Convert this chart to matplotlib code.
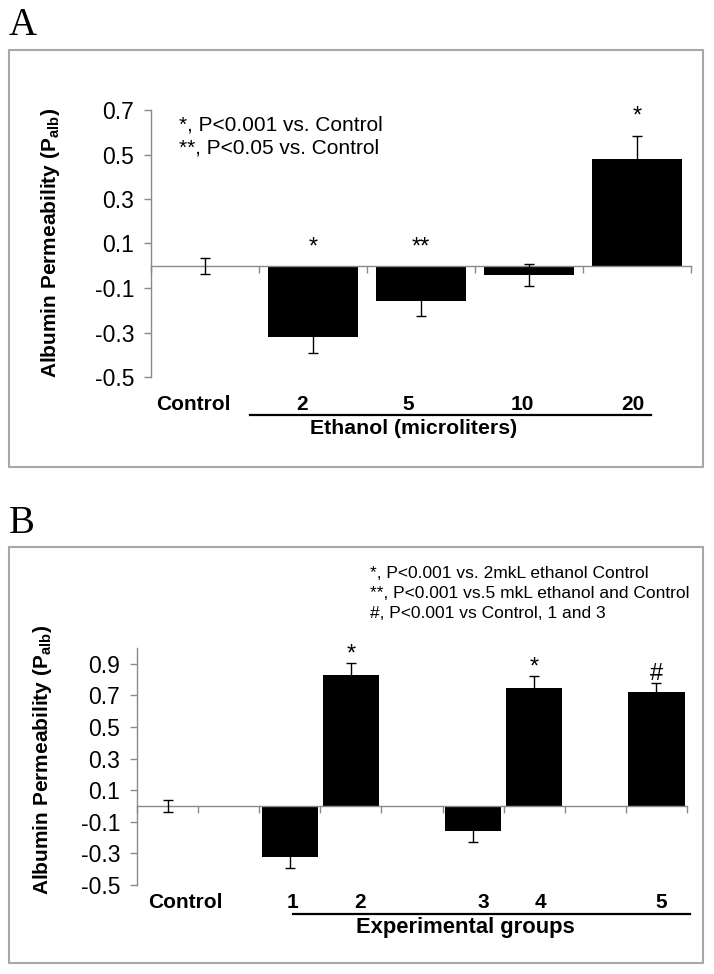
import matplotlib
matplotlib.use("Agg")
import matplotlib.pyplot as plt
import matplotlib.transforms as mtransforms
from matplotlib.patches import Rectangle
from matplotlib.lines import Line2D
import numpy as np

plt.rcParams['font.family'] = ['Liberation Sans', 'DejaVu Sans']
plt.rcParams['mathtext.fontset'] = 'custom'
plt.rcParams['mathtext.rm'] = 'Liberation Sans'
plt.rcParams['mathtext.bf'] = 'Liberation Sans:bold'

# ---- data, panel A ----
a_labels = ['Control', '2', '5', '10', '20']
a_values = [0.0, -0.32, -0.16, -0.04, 0.48]
a_errors = [0.037, 0.07, 0.065, 0.05, 0.105]
a_marks = ['', '*', '**', '', '*']
a_notes = ['*, P<0.001 vs. Control', '**, P<0.05 vs. Control']

# ---- data, panel B (empty slots keep the gaps between groups) ----
b_slots = ['Control', '', '1', '2', '', '3', '4', '', '5']
b_values = [0.0, np.nan, -0.32, 0.83, np.nan, -0.16, 0.75, np.nan, 0.72]
b_errors = [0.04, np.nan, 0.07, 0.075, np.nan, 0.065, 0.07, np.nan, 0.06]
b_marks = ['', '', '', '*', '', '', '*', '', '#']
b_notes = ['*, P<0.001 vs. 2mkL ethanol Control',
           '**, P<0.001 vs.5 mkL ethanol and Control',
           '#, P<0.001 vs Control, 1 and 3']

W, H = 714, 974
fig = plt.figure(figsize=(W / 100, H / 100), dpi=100)

def fx(px):
    return px / W

def fy(py):
    return 1 - py / H

GRAY = '#8a8a8a'

def style_axes(ax, n, ymin, ymax):
    ax.set_xlim(-0.5, n - 0.5)
    ax.set_ylim(ymin, ymax)
    for s in ['top', 'right']:
        ax.spines[s].set_visible(False)
    ax.spines['left'].set_color(GRAY)
    ax.spines['bottom'].set_color(GRAY)
    ax.spines['left'].set_linewidth(1.0)
    ax.spines['bottom'].set_linewidth(1.0)
    ax.spines['bottom'].set_position(('data', 0))
    ax.spines['left'].set_bounds(ymin, ymax)
    ax.set_xticks(np.arange(n + 1) - 0.5)
    ax.set_xticklabels([])
    ax.tick_params(axis='x', direction='out', length=5, width=1.0, color=GRAY)
    ax.tick_params(axis='y', direction='out', length=5, width=1.0, color=GRAY,
                   labelsize=16.5, pad=7)
    ax.patch.set_alpha(0)

# panel frames
fig.add_artist(Rectangle((fx(9), fy(467)), fx(703) - fx(9), fy(50) - fy(467),
                         transform=fig.transFigure, fill=False,
                         edgecolor='#a8a8a8', linewidth=1.5))
fig.add_artist(Rectangle((fx(9), fy(963)), fx(703) - fx(9), fy(547) - fy(963),
                         transform=fig.transFigure, fill=False,
                         edgecolor='#a8a8a8', linewidth=1.5))
fig.text(fx(9), fy(35), 'A', family=['Liberation Serif', 'DejaVu Serif'],
         fontsize=28, va='baseline', ha='left')
fig.text(fx(9), fy(533), 'B', family=['Liberation Serif', 'DejaVu Serif'],
         fontsize=28, va='baseline', ha='left')

ylab = 'Albumin Permeability (P$_{\\mathbf{alb}}$)'

# ---------------- panel A ----------------
axA_l, axA_r, axA_t, axA_b = 151, 691, 110, 377
axA = fig.add_axes([fx(axA_l), fy(axA_b), fx(axA_r - axA_l), fy(axA_t) - fy(axA_b)])
style_axes(axA, len(a_labels), -0.5, 0.7)
xa = np.arange(len(a_labels))
axA.bar(xa, a_values, width=0.84, color='black', zorder=2)
axA.errorbar(xa, a_values, yerr=a_errors, fmt='none', ecolor='black',
             elinewidth=1.0, capsize=3.5, capthick=1.0, zorder=3)
axA.set_yticks(np.arange(-0.5, 0.71, 0.2))
axA.set_yticklabels(['%.1f' % v for v in np.arange(-0.5, 0.71, 0.2)])
for i, m in enumerate(a_marks):
    if m:
        top = max(a_values[i] + a_errors[i], 0.0)
        axA.annotate(m, (xa[i], top), xytext=(0, 5.5), textcoords='offset points',
                     ha='center', va='bottom', fontsize=17)
for k, t in enumerate(a_notes):
    fig.text(fx(179), fy(125 + 23 * k), t, fontsize=15, ha='left', va='center')

tA = mtransforms.blended_transform_factory(axA.transData, axA.transAxes)
def ay_A(py):
    return (axA_b - py) / (axA_b - axA_t)
a_label_x = [-0.11, 0.9, 1.88, 2.94, 3.96]
for x, t in zip(a_label_x, a_labels):
    axA.text(x, ay_A(405), t, transform=tA, ha='center', va='center',
             fontsize=15, fontweight='bold')
axA.add_line(Line2D([0.42, 4.13], [ay_A(415), ay_A(415)], transform=tA,
                    color='black', linewidth=1.6, clip_on=False))
axA.text(1.93, ay_A(429), 'Ethanol (microliters)', transform=tA, ha='center',
         va='center', fontsize=15.3, fontweight='bold')
fig.text(fx(51), fy(243), ylab, rotation=90, ha='center', va='center',
         fontsize=15, fontweight='bold')

# ---------------- panel B ----------------
axB_l, axB_r, axB_t, axB_b = 137, 687, 648, 885
axB = fig.add_axes([fx(axB_l), fy(axB_b), fx(axB_r - axB_l), fy(axB_t) - fy(axB_b)])
style_axes(axB, len(b_slots), -0.5, 1.0)
xb = np.arange(len(b_slots))
axB.bar(xb, b_values, width=0.92, color='black', zorder=2)
axB.errorbar(xb, b_values, yerr=b_errors, fmt='none', ecolor='black',
             elinewidth=1.0, capsize=3.5, capthick=1.0, zorder=3)
axB.set_yticks(np.arange(-0.5, 0.91, 0.2))
axB.set_yticklabels(['%.1f' % v for v in np.arange(-0.5, 0.91, 0.2)])
for i, m in enumerate(b_marks):
    if m:
        top = b_values[i] + b_errors[i]
        axB.annotate(m, (xb[i], top), xytext=(0, -1.5), textcoords='offset points',
                     ha='center', va='bottom', fontsize=17)
for k, t in enumerate(b_notes):
    fig.text(fx(370), fy(573 + 20.5 * k), t, fontsize=12.5, ha='left', va='center')

tB = mtransforms.blended_transform_factory(axB.transData, axB.transAxes)
def ay_B(py):
    return (axB_b - py) / (axB_b - axB_t)
b_label_x = [0.29, 2.05, 3.15, 5.16, 6.1, 8.08]
b_label_txt = [s for s in b_slots if s]
for x, t in zip(b_label_x, b_label_txt):
    axB.text(x, ay_B(903), t, transform=tB, ha='center', va='center',
             fontsize=15, fontweight='bold')
axB.add_line(Line2D([2.05, 8.55], [ay_B(914), ay_B(914)], transform=tB,
                    color='black', linewidth=1.6, clip_on=False))
axB.text(4.87, ay_B(927), 'Experimental groups', transform=tB, ha='center',
         va='center', fontsize=15.8, fontweight='bold')
fig.text(fx(43), fy(760), ylab, rotation=90, ha='center', va='center',
         fontsize=15, fontweight='bold')

fig.savefig('out.png', dpi=100)
